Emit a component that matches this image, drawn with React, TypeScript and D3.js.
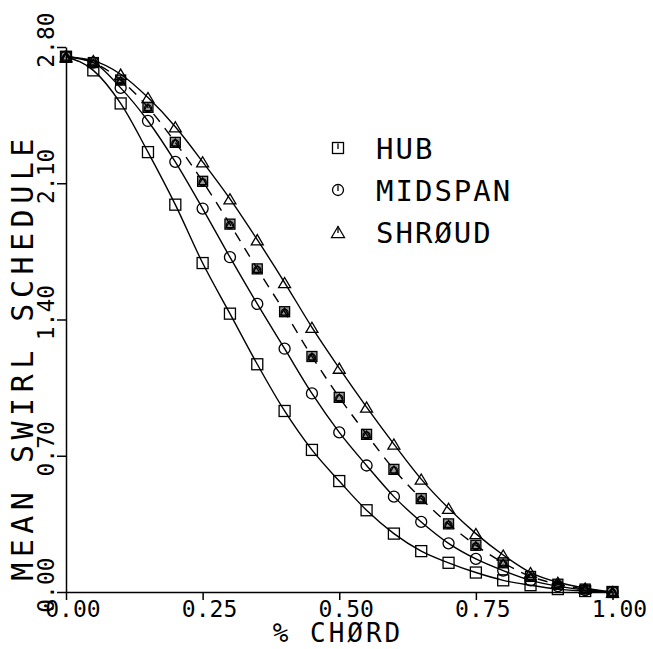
import React, { useEffect, useRef } from "react";
import * as d3 from "d3";

// % chord stations
const chord = [0.0, 0.05, 0.1, 0.15, 0.2, 0.25, 0.3, 0.35, 0.4, 0.45, 0.5, 0.55, 0.6, 0.65, 0.7, 0.75, 0.8, 0.85, 0.9, 0.95, 1.0];

const hub = [2.75, 2.68, 2.51, 2.26, 1.99, 1.69, 1.43, 1.17, 0.93, 0.73, 0.57, 0.42, 0.3, 0.21, 0.15, 0.1, 0.06, 0.035, 0.015, 0.005, 0.0];
const midspan = [2.75, 2.72, 2.59, 2.42, 2.21, 1.97, 1.72, 1.48, 1.25, 1.02, 0.82, 0.65, 0.49, 0.36, 0.25, 0.17, 0.11, 0.06, 0.03, 0.01, 0.0];
const shroud = [2.75, 2.73, 2.66, 2.54, 2.39, 2.21, 2.02, 1.81, 1.59, 1.36, 1.15, 0.95, 0.76, 0.58, 0.43, 0.3, 0.19, 0.1, 0.05, 0.02, 0.0];
// dashed curve (no legend entry)
const dashed = [2.75, 2.72, 2.63, 2.49, 2.31, 2.11, 1.89, 1.66, 1.44, 1.21, 1.0, 0.81, 0.63, 0.48, 0.35, 0.24, 0.15, 0.08, 0.04, 0.015, 0.0];

const xTicks = [0, 0.25, 0.5, 0.75, 1.0];
const yTicks = [0, 0.7, 1.4, 2.1, 2.8];
const legendLabels = ["HUB", "MIDSPAN", "SHRØUD"];

const W = 653;
const H = 649;
const FONT = "'DejaVu Sans Mono', monospace";

type Shape = "square" | "circle" | "triangle";

const App = () => {
  const svgRef = useRef<SVGSVGElement>(null);

  useEffect(() => {
    const svg = d3.select(svgRef.current);
    svg.selectAll("*").remove();

    const x = d3.scaleLinear().domain([0, 1]).range([66, 612.5]);
    const y = d3.scaleLinear().domain([0, 2.8]).range([592, 47]);

    svg.append("rect").attr("width", W).attr("height", H).attr("fill", "#fff");

    // axes
    const xAxis = svg
      .append("g")
      .attr("transform", `translate(0,${y(0)})`)
      .call(d3.axisBottom(x).tickValues(xTicks).tickSize(8).tickSizeOuter(0).tickFormat(() => ""));
    const yAxis = svg
      .append("g")
      .attr("transform", `translate(${x(0)},0)`)
      .call(d3.axisLeft(y).tickValues(yTicks).tickSize(9).tickSizeOuter(0).tickFormat(() => ""));
    [xAxis, yAxis].forEach((a) => {
      a.selectAll("path, line").attr("stroke", "#000").attr("stroke-width", 1.5);
    });

    const fmt = d3.format(".2f");
    const tickFs = 23;
    const adv = tickFs * 0.602;

    // x tick labels, decimal point on the tick
    svg
      .append("g")
      .selectAll("text")
      .data(xTicks)
      .enter()
      .append("text")
      .attr("x", (d) => x(d) - 1.5 * adv)
      .attr("y", 617)
      .attr("font-family", FONT)
      .attr("font-size", tickFs)
      .text((d) => fmt(d));

    // y tick labels (rotated)
    svg
      .append("g")
      .selectAll("text")
      .data(yTicks)
      .enter()
      .append("text")
      .attr("transform", (d) => `translate(54,${y(d) + 1.5 * adv}) rotate(-90)`)
      .attr("font-family", FONT)
      .attr("font-size", tickFs)
      .text((d) => fmt(d));

    // axis titles
    svg
      .append("text")
      .attr("transform", `translate(33,357) rotate(-90)`)
      .attr("text-anchor", "middle")
      .attr("font-family", FONT)
      .attr("font-size", 30)
      .attr("letter-spacing", 5.5)
      .text("MEAN SWIRL SCHEDULE");

    svg
      .append("text")
      .attr("x", 338)
      .attr("y", 642)
      .attr("text-anchor", "middle")
      .attr("font-family", FONT)
      .attr("font-size", 26)
      .attr("letter-spacing", 3)
      .text("% CHØRD");

    // curves
    const line = d3
      .line<number>()
      .x((_, i) => x(chord[i]))
      .y((d) => y(d))
      .curve(d3.curveMonotoneX);

    const addLine = (vals: number[], dash: string | null) => {
      const p = svg
        .append("path")
        .datum(vals)
        .attr("fill", "none")
        .attr("stroke", "#000")
        .attr("stroke-width", 1.4)
        .attr("d", line);
      if (dash) p.attr("stroke-dasharray", dash);
    };
    addLine(hub, null);
    addLine(midspan, null);
    addLine(shroud, null);
    addLine(dashed, "10,8");

    // markers
    const drawMarker = (g: any, shape: Shape, cx: number, cy: number, s: number, tick = false) => {
      if (shape === "square") {
        g.append("rect")
          .attr("x", cx - s / 2)
          .attr("y", cy - s / 2)
          .attr("width", s)
          .attr("height", s)
          .attr("fill", "none")
          .attr("stroke", "#000")
          .attr("stroke-width", 1.3);
      } else if (shape === "circle") {
        g.append("circle")
          .attr("cx", cx)
          .attr("cy", cy)
          .attr("r", s / 2)
          .attr("fill", "none")
          .attr("stroke", "#000")
          .attr("stroke-width", 1.3);
      } else {
        const h = s * 0.85;
        g.append("path")
          .attr("d", `M${cx - s / 2},${cy + h / 2}L${cx + s / 2},${cy + h / 2}L${cx},${cy - h / 2}Z`)
          .attr("fill", "none")
          .attr("stroke", "#000")
          .attr("stroke-width", 1.3);
      }
      if (tick) {
        g.append("line")
          .attr("x1", cx)
          .attr("x2", cx)
          .attr("y1", cy - s / 2 + 1)
          .attr("y2", cy + 1)
          .attr("stroke", "#000")
          .attr("stroke-width", 1.3);
      }
    };

    const mg = svg.append("g");
    const series: [number[], Shape][] = [
      [hub, "square"],
      [midspan, "circle"],
      [shroud, "triangle"],
    ];
    series.forEach(([vals, shape]) => {
      vals.forEach((v, i) => drawMarker(mg, shape, x(chord[i]), y(v), shape === "triangle" ? 12 : 11));
    });
    // dashed curve markers: all three symbols stacked
    dashed.forEach((v, i) => {
      const cx = x(chord[i]);
      const cy = y(v);
      drawMarker(mg, "square", cx, cy, 10);
      drawMarker(mg, "circle", cx, cy + 1, 7);
      drawMarker(mg, "triangle", cx, cy, 8);
      mg.append("rect")
        .attr("x", cx - 5)
        .attr("y", cy - 5)
        .attr("width", 10)
        .attr("height", 10)
        .attr("fill", "#000")
        .attr("fill-opacity", 0.4);
    });

    // legend
    const legendShapes: Shape[] = ["square", "circle", "triangle"];
    legendLabels.forEach((label, i) => {
      const cy = 148 + i * 42;
      drawMarker(svg, legendShapes[i], 338, cy, legendShapes[i] === "triangle" ? 13 : 11, true);
      svg
        .append("text")
        .attr("x", 376)
        .attr("y", cy + 10.5)
        .attr("font-family", FONT)
        .attr("font-size", 29)
        .attr("letter-spacing", 2)
        .text(label);
    });
  }, []);

  return (
    <svg
      ref={svgRef}
      width={W}
      height={H}
      style={{ position: "absolute", left: 0, top: 0, display: "block" }}
    />
  );
};

export default App;
